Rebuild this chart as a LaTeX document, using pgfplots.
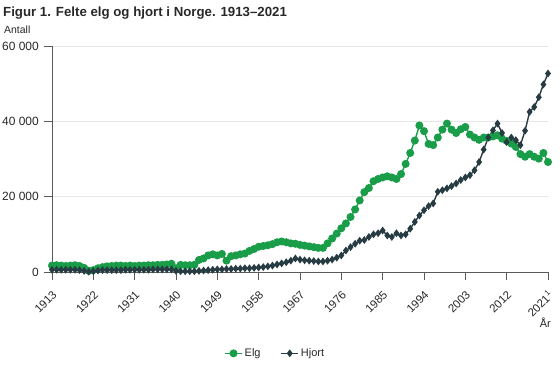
\documentclass[border=0pt]{standalone}
\usepackage{pgfplots}
\pgfplotsset{compat=1.18}
\usepackage{pgfplotstable}
\usepackage{fontspec}
\setmainfont{Liberation Sans}
\definecolor{elg}{RGB}{26,157,73}
\definecolor{hjort}{RGB}{39,60,66}
\definecolor{gridc}{RGB}{230,230,230}
\definecolor{axc}{RGB}{90,90,90}
\definecolor{txt}{RGB}{40,40,40}

\pgfplotstableread{
year elg hjort
1913 1700 600
1914 1800 600
1915 1700 600
1916 1600 600
1917 1700 600
1918 1800 600
1919 1600 500
1920 1100 300
1921 300 100
1922 500 200
1923 1000 400
1924 1300 500
1925 1500 500
1926 1600 500
1927 1700 500
1928 1700 500
1929 1600 600
1930 1700 600
1931 1600 600
1932 1700 600
1933 1700 600
1934 1800 600
1935 1800 700
1936 1900 700
1937 1900 700
1938 2000 700
1939 2200 700
1940 1000 300
1941 1900 200
1942 1800 200
1943 1800 200
1944 1900 200
1945 3200 300
1946 3600 400
1947 4400 500
1948 4700 600
1949 4400 700
1950 4800 700
1951 3000 800
1952 4200 800
1953 4400 900
1954 4700 900
1955 4900 1000
1956 5600 1000
1957 6100 1100
1958 6700 1200
1959 6900 1300
1960 7100 1500
1961 7400 1700
1962 7900 2000
1963 8100 2300
1964 7900 2600
1965 7600 3000
1966 7500 3600
1967 7200 3300
1968 7000 3100
1969 6800 3000
1970 6600 2900
1971 6400 2800
1972 6400 2800
1973 7600 3000
1974 8900 3300
1975 10200 3800
1976 11600 4400
1977 12900 5700
1978 14600 6600
1979 16600 7500
1980 19000 8300
1981 21200 8500
1982 22300 9300
1983 24100 10000
1984 24700 10300
1985 25100 11000
1986 25400 9700
1987 25100 9300
1988 24700 10300
1989 26000 9700
1990 28700 10000
1991 31600 11500
1992 34900 13300
1993 38900 15000
1994 37400 16400
1995 34000 17500
1996 33700 18200
1997 35700 21300
1998 37800 21700
1999 39400 22200
2000 37800 22800
2001 36900 23500
2002 37900 24400
2003 38500 25100
2004 36500 25700
2005 35700 27000
2006 35100 29200
2007 35700 32500
2008 35700 35700
2009 36000 37600
2010 36300 39400
2011 35400 36900
2012 34800 34500
2013 34100 35700
2014 33200 35000
2015 31300 33700
2016 30600 37500
2017 31300 42500
2018 30600 43800
2019 30100 46400
2020 31600 49800
2021 29200 52700
}\datatable

\begin{document}
\begin{tikzpicture}
\useasboundingbox (0bp,0bp) rectangle (560bp,373bp);
\node[anchor=base west, font=\bfseries\fontsize{13.3}{15}\selectfont, text=txt, inner sep=0pt] at (3bp,356bp) {Figur 1. Felte elg og hjort i Norge. 1913–2021};
\node[anchor=base west, font=\fontsize{10.5}{12}\selectfont, text=txt, inner sep=0pt] at (4bp,339bp) {Antall};
\begin{axis}[
  at={(52bp,101bp)}, anchor=south west,
  scale only axis, width=496bp, height=226bp,
  xmin=1913, xmax=2021, ymin=0, ymax=60000,
  clip=false,
  axis x line*=bottom, axis y line*=left,
  axis line style={draw=axc, line width=0.8pt, -},
  tick align=outside,
  major tick length=8bp,
  every tick/.append style={draw=axc, line width=1pt},
  xtick={1913,1922,1931,1940,1949,1958,1967,1976,1985,1994,2003,2012,2021},
  xticklabels={1913,1922,1931,1940,1949,1958,1967,1976,1985,1994,2003,2012,{2021\textsuperscript{1}}},
  ytick={0,20000,40000,60000},
  yticklabels={0,20 000,40 000,60 000},
  scaled y ticks=false,
  ymajorgrids,
  grid style={draw=gridc, line width=0.8pt},
  xticklabel style={rotate=45, anchor=east, font=\fontsize{11.5}{13}\selectfont, text=txt, inner sep=1pt, xshift=-6bp, yshift=-11bp},
  yticklabel style={font=\fontsize{12}{13}\selectfont, text=txt, inner sep=2pt, xshift=-3bp},
  /pgf/number format/assume math mode=true,
  legend style={at={(0.45,-0.36)}, anchor=center, draw=none, fill=none, legend columns=2, font=\fontsize{11}{12}\selectfont, text=txt, /tikz/every even column/.append style={column sep=18bp}},
  legend cell align=left,
]
\addplot[color=elg, line width=1.4pt, mark=*, mark size=3.3pt, mark options={fill=elg, draw=elg}] table[x=year, y=elg] {\datatable};
\addlegendentry{Elg}
\addplot[color=hjort, line width=1.4pt, mark=diamond*, mark size=2.8pt, mark options={fill=hjort, draw=hjort}] table[x=year, y=hjort] {\datatable};
\addlegendentry{Hjort}
\pgfplotsinvokeforeach{1913,1922,1931,1940,1949,1958,1967,1976,1985,1994,2003,2012,2021}{
  \draw[axc, line width=0.9pt] (axis cs:#1,0) -- ++(0bp,-8bp);
}
\pgfplotsinvokeforeach{0,20000,40000,60000}{
  \draw[axc, line width=0.9pt] (axis cs:1913,#1) -- ++(-8bp,0bp);
}
\end{axis}
\node[anchor=base east, font=\fontsize{11}{12}\selectfont, text=txt, inner sep=0pt] at (551bp,45bp) {År};
\end{tikzpicture}
\end{document}
